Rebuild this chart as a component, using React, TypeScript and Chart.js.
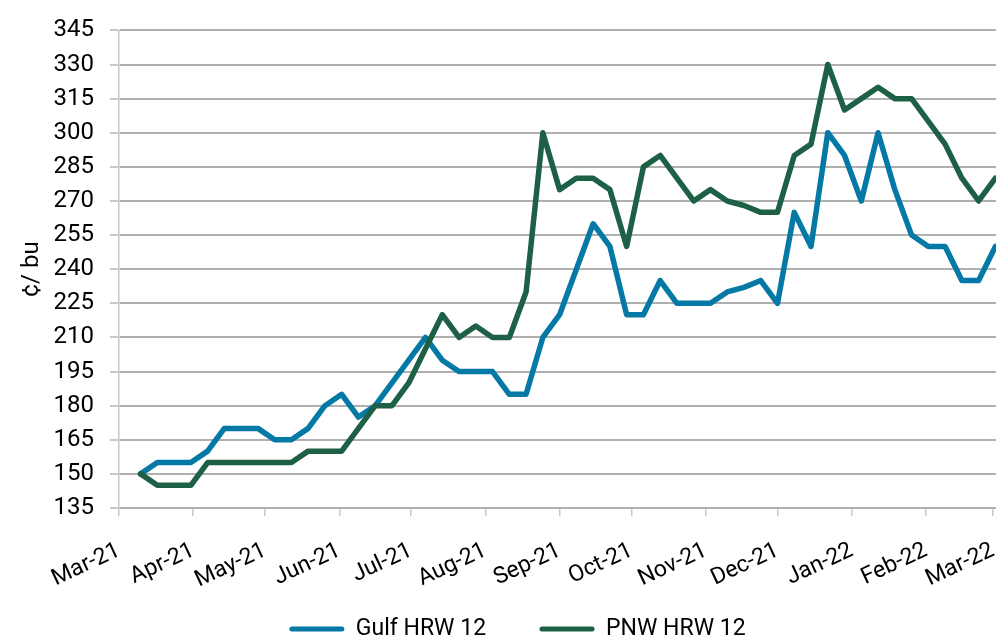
import React, { useEffect, useRef } from "react";
import { Chart, registerables } from "chart.js";

Chart.register(...registerables);

// Weekly observation dates
const weekDates = [
  "2021-03-10", "2021-03-17", "2021-03-24", "2021-03-31",
  "2021-04-07", "2021-04-14", "2021-04-21", "2021-04-28",
  "2021-05-05", "2021-05-12", "2021-05-19", "2021-05-26",
  "2021-06-02", "2021-06-09", "2021-06-16", "2021-06-23", "2021-06-30",
  "2021-07-07", "2021-07-14", "2021-07-21", "2021-07-28",
  "2021-08-04", "2021-08-11", "2021-08-18", "2021-08-25",
  "2021-09-01", "2021-09-08", "2021-09-15", "2021-09-22", "2021-09-29",
  "2021-10-06", "2021-10-13", "2021-10-20", "2021-10-27",
  "2021-11-03", "2021-11-10", "2021-11-17", "2021-11-24",
  "2021-12-01", "2021-12-08", "2021-12-15", "2021-12-22", "2021-12-29",
  "2022-01-05", "2022-01-12", "2022-01-19", "2022-01-26",
  "2022-02-02", "2022-02-09", "2022-02-16", "2022-02-23",
  "2022-03-02",
];

// Gulf HRW 12 basis, cents per bushel
const gulfHRW12 = [
  150, 155, 155, 155, 160, 170, 170, 170, 165, 165, 170, 180, 185,
  175, 180, 190, 200, 210, 200, 195, 195, 195, 185, 185, 210, 220,
  240, 260, 250, 220, 220, 235, 225, 225, 225, 230, 232, 235, 225,
  265, 250, 300, 290, 270, 300, 275, 255, 250, 250, 235, 235, 250,
];

// PNW HRW 12 basis, cents per bushel
const pnwHRW12 = [
  150, 145, 145, 145, 155, 155, 155, 155, 155, 155, 160, 160, 160,
  170, 180, 180, 190, 205, 220, 210, 215, 210, 210, 230, 300, 275,
  280, 280, 275, 250, 285, 290, 280, 270, 275, 270, 268, 265, 265,
  290, 295, 330, 310, 315, 320, 315, 315, 305, 295, 280, 270, 280,
];

// Month ticks on the date axis
const tickDates = [
  "2021-03-01", "2021-04-01", "2021-05-01", "2021-06-01", "2021-07-01",
  "2021-08-01", "2021-09-01", "2021-10-01", "2021-11-01", "2021-12-01",
  "2022-01-01", "2022-02-01", "2022-03-01",
];
const tickLabels = [
  "Mar-21", "Apr-21", "May-21", "Jun-21", "Jul-21", "Aug-21", "Sep-21",
  "Oct-21", "Nov-21", "Dec-21", "Jan-22", "Feb-22", "Mar-22",
];

const yMin = 135;
const yMax = 345;
const yStep = 15;

const ORIGIN = Date.UTC(2021, 2, 1);
const toDay = (s: string) => (Date.parse(s + "T00:00:00Z") - ORIGIN) / 86400000;

const LEG_DX = 19.5;
const LEG_DY = -24;

const legendShift = {
  id: "legendShift",
  afterLayout(chart: any) {
    const l = chart.legend;
    if (!l) return;
    l.left += LEG_DX;
    l.right += LEG_DX;
    l.top += LEG_DY;
  },
};

export default function App() {
  const ref = useRef<HTMLCanvasElement | null>(null);

  useEffect(() => {
    if (!ref.current) return;
    const font = (size: number) => ({ family: "Roboto", size });
    const tickDays = tickDates.map(toDay);
    const chart = new Chart(ref.current, {
      type: "line",
      data: {
        datasets: [
          {
            label: "Gulf HRW 12",
            data: weekDates.map((d, i) => ({ x: toDay(d), y: gulfHRW12[i] })),
            borderColor: "#0579a6",
            backgroundColor: "#0579a6",
            borderWidth: 5.5,
            pointRadius: 0,
            tension: 0,
            borderJoinStyle: "round",
            borderCapStyle: "round",
            order: 1,
          },
          {
            label: "PNW HRW 12",
            data: weekDates.map((d, i) => ({ x: toDay(d), y: pnwHRW12[i] })),
            borderColor: "#1e6045",
            backgroundColor: "#1e6045",
            borderWidth: 5.5,
            pointRadius: 0,
            tension: 0,
            borderJoinStyle: "round",
            borderCapStyle: "round",
            order: 0,
          },
        ],
      },
      options: {
        responsive: true,
        maintainAspectRatio: false,
        animation: false,
        layout: { padding: { top: 30, left: 0, right: 0, bottom: 0 } },
        plugins: {
          tooltip: { enabled: false },
          legend: {
            position: "bottom",
            maxHeight: 56,
            labels: {
              font: font(23),
              color: "#000",
              boxWidth: 55,
              boxHeight: 5,
              padding: 53.5,
              useBorderRadius: true,
              borderRadius: 2.5,
              sort: (a: any, b: any) => a.datasetIndex - b.datasetIndex,
              generateLabels: (c: any) =>
                (Chart.defaults.plugins.legend.labels as any)
                  .generateLabels(c)
                  .map((l: any) => ({ ...l, lineWidth: 0, fillStyle: l.strokeStyle })),
            },
          },
        },
        scales: {
          x: {
            type: "linear",
            min: 0,
            max: 366.25,
            afterBuildTicks: (s: any) => {
              s.ticks = tickDays.map((v) => ({ value: v }));
            },
            afterFit: (s: any) => {
              s.height = 80;
              s.paddingRight = 0;
            },
            ticks: {
              autoSkip: false,
              minRotation: 25,
              maxRotation: 25,
              padding: 21,
              font: font(23),
              color: "#000",
              callback: (_v: any, i: number) => tickLabels[i],
            },
            grid: {
              drawOnChartArea: false,
              drawTicks: true,
              tickLength: 8,
              color: "#c8c8c8",
              lineWidth: 1.5,
            },
            border: { display: false },
          },
          y: {
            min: yMin,
            max: yMax,
            afterFit: (s: any) => {
              s.width = 119;
            },
            ticks: {
              stepSize: yStep,
              padding: 16,
              font: font(24),
              color: "#000",
            },
            grid: {
              color: "#b0b0b0",
              lineWidth: 2,
              tickLength: 9,
              tickColor: "#c8c8c8",
            },
            border: { color: "#c8c8c8", width: 1.5 },
            title: {
              display: true,
              text: "¢/ bu",
              font: font(24),
              color: "#000",
              padding: { top: 18, bottom: 0 },
            },
          },
        },
      },
      plugins: [legendShift],
    } as any);
    return () => chart.destroy();
  }, []);

  return (
    <div style={{ position: "fixed", left: 0, top: 0, width: 996, height: 644, background: "#fff" }}>
      <canvas ref={ref} />
    </div>
  );
}
